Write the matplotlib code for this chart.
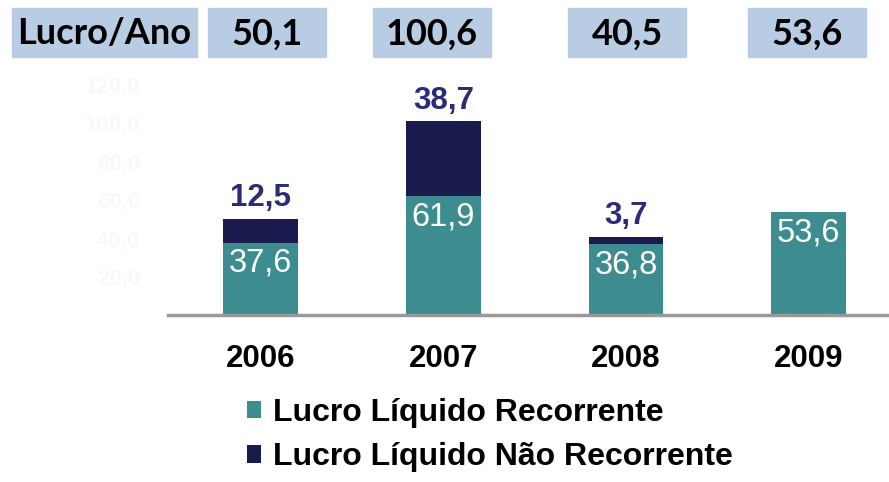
import numpy as np
import matplotlib.pyplot as plt

OUTFILE = "out.png"

years = ["2006", "2007", "2008", "2009"]
recorrente = [37.6, 61.9, 36.8, 53.6]
nao_recorrente = [12.5, 38.7, 3.7, 0.0]
lucro_ano = ["50,1", "100,6", "40,5", "53,6"]
yticks = [20, 40, 60, 80, 100, 120]

teal = "#3d8c8f"
navy = "#1b1a4d"
navy_text = "#2b2b7a"
box_blue = "#b8cce4"

plt.rcParams['font.family'] = ['Liberation Sans', 'DejaVu Sans']

fig = plt.figure(figsize=(8.89, 4.82), dpi=100)
ax = fig.add_axes([168 / 889, 1 - 315 / 482, 1 - 168 / 889, (315 - 70) / 482])
ax: plt.Axes

x = np.arange(len(years))
rec = np.array(recorrente)
nrec = np.array(nao_recorrente)
b1 = ax.bar(x, rec, width=0.41, color=teal, label="Lucro Líquido Recorrente")
b2 = ax.bar(x, nrec, width=0.41, bottom=rec, color=navy, label="Lucro Líquido Não Recorrente")

ax.set_xlim(-0.507, 3.44)
ax.set_ylim(0, 127.3)

for xi, r, n in zip(x, rec, nrec):
    ax.annotate(f"{r:.1f}".replace(".", ","), (xi, r), xytext=(0, -15), textcoords="offset points",
                ha="center", va="center", color="white", fontsize=23.5)
    if n > 0:
        ax.annotate(f"{n:.1f}".replace(".", ","), (xi, r + n), xytext=(0, 15), textcoords="offset points",
                    ha="center", va="center", color=navy_text, fontsize=22.5, fontweight="bold")

for s in ["top", "right", "left"]:
    ax.spines[s].set_visible(False)
ax.spines["bottom"].set_color("#999999")
ax.spines["bottom"].set_linewidth(2.5)
ax.set_xticks(x)
ax.set_xticklabels(years, fontsize=22.5, fontweight="bold")
ax.tick_params(axis="x", length=0, pad=21)
ax.set_yticks(yticks)
ax.set_yticklabels([f"{v},0" for v in yticks], color="#f8f8f8", fontsize=16, fontweight="bold")
ax.tick_params(axis="y", length=0, pad=20)

# top row of boxes
box_left = [12, 208, 373, 568, 748]
box_w = [185, 118, 118, 118, 118]
labels_top = ["Lucro/Ano"] + lucro_ano
for bl, bw, t in zip(box_left, box_w, labels_top):
    fig.patches.append(plt.Rectangle((bl / 889, 1 - 57 / 482), bw / 889, 49 / 482,
                                     transform=fig.transFigure, color=box_blue, zorder=0))
    fig.text((bl + bw / 2) / 889, 1 - 34 / 482, t, ha="center", va="center",
             fontsize=26, fontweight="bold", family=["Lato", "DejaVu Sans"])

fig.legend(handles=[b1, b2], loc="upper left", bbox_to_anchor=(247 / 889, 1 - 398 / 482),
           frameon=False, prop={"weight": "bold", "size": 23},
           handlelength=0.45, handleheight=0.45, handletextpad=0.35,
           labelspacing=0.45, borderpad=0, borderaxespad=0)

fig.savefig(OUTFILE)
